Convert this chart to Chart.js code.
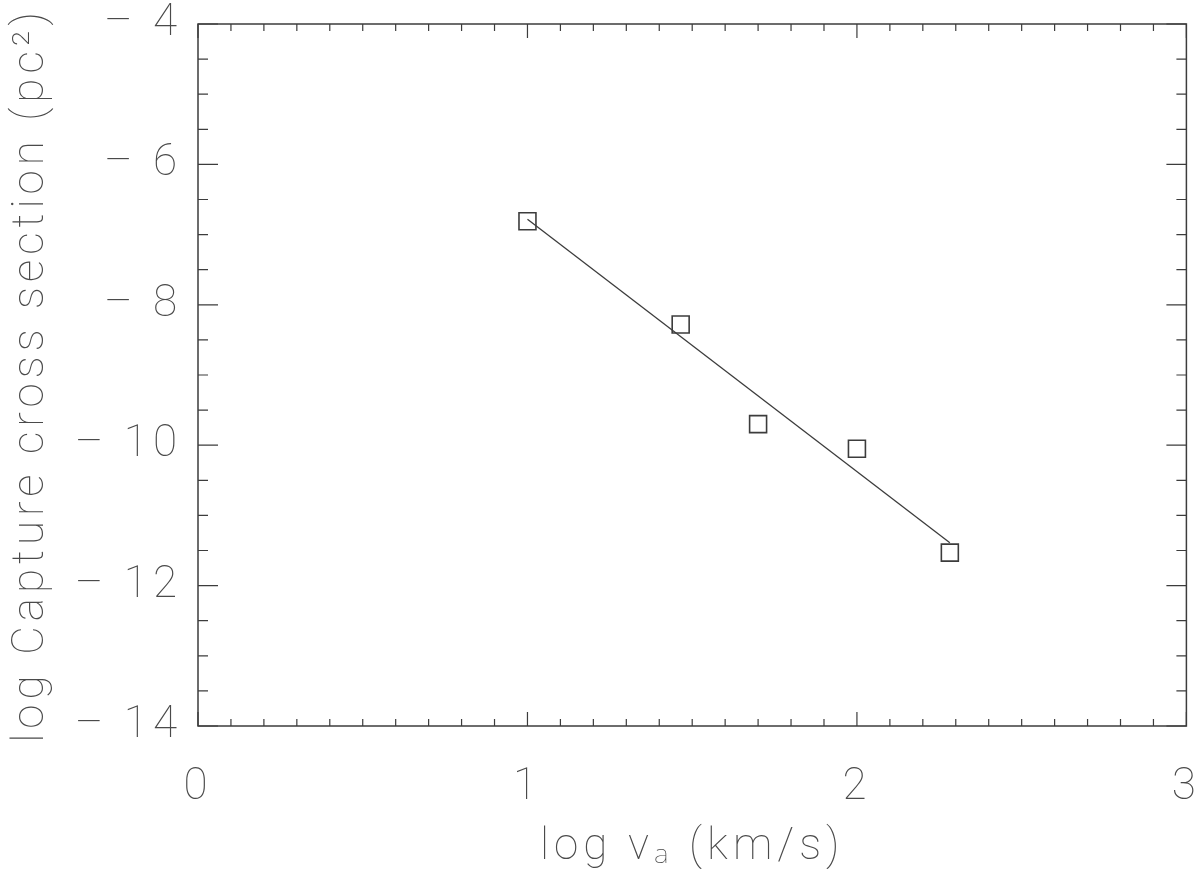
<!DOCTYPE html>
<html>
<head>
<meta charset="utf-8">
<script src="https://cdn.jsdelivr.net/npm/chart.js@4"></script>
<style>
  html, body { margin: 0; padding: 0; background: #fff; }
  #wrap { width: 1200px; height: 869px; }
</style>
</head>
<body>
<div id="wrap"><canvas id="grafico"></canvas></div>
<script>
// Datos
const logVel = [1.0, 1.465, 1.70, 2.0, 2.282];
const logSeccion = [-6.81, -8.28, -9.70, -10.05, -11.53];

// Recta de ajuste (extremos)
const ajusteX = [1.0, 2.282];
const ajusteY = [-6.78, -11.39];

const ticksX = [0, 1, 2, 3];
const ticksY = [-14, -12, -10, -8, -6, -4];

const colorLinea = '#3c3c3c';
const colorTexto = '#4a4a4a';
const fuente = 'Roboto, "Noto Sans", "DejaVu Sans"';

// Marcas hacia dentro en los cuatro lados, como en el original
const pluginMarcas = {
    id: 'marcas',
    beforeLayout: (chart) => { chart.ctx.letterSpacing = '5px'; },
    beforeDraw: (chart) => { chart.ctx.letterSpacing = '5px'; },
    afterDraw: (chart) => {
        const ctx = chart.ctx;
        const a = chart.chartArea;
        const sx = chart.scales.x;
        const sy = chart.scales.y;
        ctx.save();
        ctx.strokeStyle = colorLinea;
        ctx.lineWidth = 1.5;
        ctx.strokeRect(a.left, a.top, a.right - a.left, a.bottom - a.top);
        ctx.lineWidth = 1.2;
        ctx.beginPath();
        for (let i = 0; i <= 30; i++) {
            const px = sx.getPixelForValue(i / 10);
            const largo = i % 10 === 0 ? 14 : 7;
            ctx.moveTo(px, a.bottom); ctx.lineTo(px, a.bottom - largo);
            ctx.moveTo(px, a.top); ctx.lineTo(px, a.top + largo);
        }
        for (let i = 0; i <= 20; i++) {
            const v = -14 + i * 0.5;
            const py = sy.getPixelForValue(v);
            const largo = i % 4 === 0 ? 20 : 10;
            ctx.moveTo(a.left, py); ctx.lineTo(a.left + largo, py);
            ctx.moveTo(a.right, py); ctx.lineTo(a.right - largo, py);
        }
        ctx.stroke();
        ctx.restore();
    }
};

new Chart(document.getElementById('grafico'), {
    type: 'scatter',
    data: {
        datasets: [
            {
                label: 'Ajuste',
                type: 'line',
                data: ajusteX.map((x, i) => ({ x: x, y: ajusteY[i] })),
                borderColor: colorLinea,
                borderWidth: 1.3,
                pointRadius: 0,
                fill: false
            },
            {
                label: 'Datos',
                data: logVel.map((x, i) => ({ x: x, y: logSeccion[i] })),
                pointStyle: 'rect',
                pointRadius: 12,
                pointBorderWidth: 1.6,
                pointBorderColor: colorLinea,
                pointBackgroundColor: 'rgba(0,0,0,0)'
            }
        ]
    },
    options: {
        responsive: true,
        maintainAspectRatio: false,
        animation: false,
        layout: { padding: { top: 24, right: 11, left: 0, bottom: 0 } },
        plugins: { legend: { display: false }, tooltip: { enabled: false } },
        scales: {
            x: {
                type: 'linear',
                min: 0, max: 3,
                afterFit: (s) => { s.height = 143; s.paddingLeft = 0; s.paddingRight = 0; },
                afterBuildTicks: (s) => { s.ticks = ticksX.map(v => ({ value: v })); },
                grid: { display: false, drawTicks: false },
                border: { display: false },
                ticks: {
                    color: colorTexto,
                    padding: 36,
                    font: { family: fuente, size: 44, weight: 100 }
                },
                title: {
                    display: true,
                    text: 'log vₐ (km/s)',
                    color: colorTexto,
                    padding: { top: 4, bottom: -5 },
                    font: { family: fuente, size: 44, weight: 100 }
                }
            },
            y: {
                type: 'linear',
                min: -14, max: -4,
                afterFit: (s) => { s.width = 198; s.paddingTop = 0; s.paddingBottom = 0; },
                afterBuildTicks: (s) => { s.ticks = ticksY.map(v => ({ value: v })); },
                grid: { display: false, drawTicks: false },
                border: { display: false },
                ticks: {
                    color: colorTexto,
                    padding: 16,
                    font: { family: fuente, size: 44, weight: 100 },
                    callback: (v) => '\u2013 ' + Math.abs(v)
                },
                title: {
                    display: true,
                    text: 'log Capture cross section (pc²)',
                    color: colorTexto,
                    padding: { top: 6, bottom: 0 },
                    font: { family: fuente, size: 44, weight: 100 }
                }
            }
        }
    },
    plugins: [pluginMarcas]
});
</script>
</body>
</html>
